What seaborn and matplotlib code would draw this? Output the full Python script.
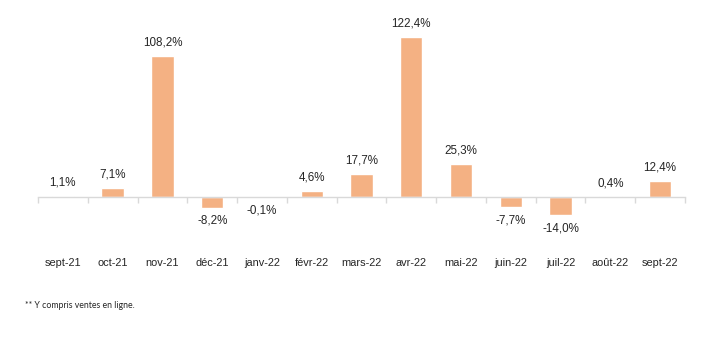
import matplotlib
matplotlib.use("Agg")
import matplotlib.pyplot as plt
import seaborn as sns
import pandas as pd
import numpy as np
from matplotlib.ticker import FixedLocator

months = ["sept-21", "oct-21", "nov-21", "déc-21", "janv-22", "févr-22", "mars-22",
          "avr-22", "mai-22", "juin-22", "juil-22", "août-22", "sept-22"]
growth = [1.1, 7.1, 108.2, -8.2, -0.1, 4.6, 17.7, 122.4, 25.3, -7.7, -14.0, 0.4, 12.4]
footnote = "** Y compris ventes en ligne."

df = pd.DataFrame({"mois": months, "evolution": growth})

sns.set_theme(style="white")
plt.rcParams["font.family"] = ["Liberation Sans", "DejaVu Sans"]

fig = plt.figure(figsize=(7.06, 3.48), dpi=100)
ax = fig.add_axes([38 / 706, 1 - 245 / 348, (685 - 38) / 706, 225 / 348])

sns.barplot(data=df, x="mois", y="evolution", color="#F4B183", saturation=1,
            width=0.45, ax=ax)

ax.set_xlim(-0.5, len(months) - 0.5)
ax.set_ylim(-36.7, 135.4)

for s in ["top", "right", "left"]:
    ax.spines[s].set_visible(False)
ax.spines["bottom"].set_position(("data", 0))
ax.spines["bottom"].set_color("#D9D9D9")
ax.spines["bottom"].set_linewidth(1.0)
ax.set_yticks([])
ax.set_xlabel("")
ax.set_ylabel("")

# category boundaries as small outward ticks on the zero line
ax.xaxis.set_minor_locator(FixedLocator(np.arange(len(months) + 1) - 0.5))
ax.tick_params(axis="x", which="minor", length=4, width=1, color="#D9D9D9",
               direction="out", bottom=True)
ax.tick_params(axis="x", which="major", length=0, pad=44, labelsize=7.9,
               labelcolor="#262626")

for i, v in enumerate(growth):
    label = f"{v:.1f}%".replace(".", ",")
    off = 9.5 if v >= 0 else -9.5
    ax.annotate(label, xy=(i, v), xytext=(0, off), textcoords="offset points",
                ha="center", va="center", fontsize=8.4, color="#262626")

fig.text(25 / 706, 1 - 305 / 348, footnote, fontsize=6.3, family=["Lato", "DejaVu Sans"],
         color="#262626", va="center", ha="left")

fig.savefig("out.png", dpi=100)
